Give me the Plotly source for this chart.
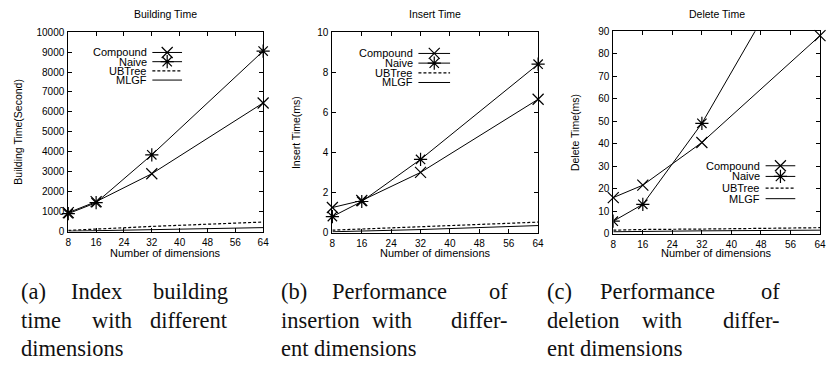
import plotly.graph_objects as go

W, H = 827, 378

dims = [8, 16, 32, 64]
x_ticks = [8, 16, 24, 32, 40, 48, 56, 64]

build_compound = [950, 1500, 2900, 6450]
build_naive = [900, 1450, 3850, 9050]
build_ubtree = [60, 130, 260, 480]
build_mlgf = [20, 50, 110, 200]

insert_compound = [1.25, 1.6, 3.0, 6.65]
insert_naive = [0.8, 1.55, 3.65, 8.4]
insert_ubtree = [0.12, 0.18, 0.3, 0.52]
insert_mlgf = [0.04, 0.07, 0.15, 0.35]

delete_compound = [16, 21.5, 40.5, 88]
delete_naive = [5.5, 13, 49, 140]
delete_ubtree = [1.5, 1.8, 2.0, 2.6]
delete_mlgf = [0.8, 1.0, 1.2, 1.5]

series_names = ["Compound", "Naive", "UBTree", "MLGF"]
panel_titles = ["Building Time", "Insert Time", "Delete Time"]
y_titles = ["Building Time(Second)", "Insert Time(ms)", "Delete Time(ms)"]
x_title = "Number of dimensions"
y_ranges = [[0, 10000], [0, 10], [0, 90]]
y_dticks = [1000, 2, 10]

captions = [
    [["(a)", "Index", "building"], ["time", "with", "different"], ["dimensions"]],
    [["(b)", "Performance", "of"], ["insertion", "with", "differ-"], ["ent dimensions"]],
    [["(c)", "Performance", "of"], ["deletion", "with", "differ-"], ["ent dimensions"]],
]

panels_data = [
    [build_compound, build_naive, build_ubtree, build_mlgf],
    [insert_compound, insert_naive, insert_ubtree, insert_mlgf],
    [delete_compound, delete_naive, delete_ubtree, delete_mlgf],
]

# ---- layout positions (pixels) ----
frames = [(66, 263, 27, 233), (333, 541, 27, 234), (617, 826, 26, 235)]
# legend: text right x, sample x0, sample x1, row y's (pixels)
legend_px = [
    (148, 151, 181, [48, 57.5, 67, 76.5]),
    (417, 420, 452, [49, 59, 69, 79]),
    (767, 771, 801, [165, 176, 188, 199]),
]
title_y = 8
xtitle_y = 255
ytitle_x = [15, 297, 579]
cap_cols = [(16, 230, [95, 110]), (279, 513, [391, 393]), (548, 788, [662, 666])]
cap_lines_y = [295, 325, 354]

FONT = "Liberation Sans, Arial, sans-serif"
SERIF = "Liberation Serif, Times New Roman, serif"
CAP_FONT = dict(family=SERIF, size=22.5, color="#111")

def px(x):
    return x / W

def py(y):
    return 1 - y / H

styles = [
    dict(line=dict(color="black", width=1),
         marker=dict(symbol="x-thin-open", size=11, color="black", line=dict(color="black", width=1.2))),
    dict(line=dict(color="black", width=1),
         marker=dict(symbol="asterisk-open", size=11, color="black", line=dict(color="black", width=1.2))),
    dict(line=dict(color="black", width=1.2, dash="3px,2px"), marker=None),
    dict(line=dict(color="black", width=1), marker=None),
]

fig = go.Figure()
layout = dict(
    width=W, height=H, margin=dict(l=0, r=0, t=0, b=0),
    paper_bgcolor="white", plot_bgcolor="white", showlegend=False,
    font=dict(family=FONT, size=10, color="black"),
)
annotations = []

for i in range(3):
    xl, xr, yt, yb = frames[i]
    xa = "x" if i == 0 else f"x{i+1}"
    ya = "y" if i == 0 else f"y{i+1}"
    ox = f"x{i+4}"
    oy = f"y{i+4}"
    dom_x = [px(xl), min(px(xr), 1.0)]
    dom_y = [py(yb), py(yt)]
    axis_common = dict(
        showline=True, mirror="allticks", linecolor="black", linewidth=1,
        ticks="inside", ticklen=4, tickcolor="black", showgrid=False, zeroline=False,
        tickfont=dict(family=FONT, size=10, color="black"), ticklabeloverflow="allow",
    )
    layout["xaxis" + ("" if i == 0 else str(i + 1))] = dict(
        domain=dom_x, anchor=ya, range=[8, 64], tickvals=x_ticks, ticklabelstandoff=1, **axis_common)
    layout["yaxis" + ("" if i == 0 else str(i + 1))] = dict(
        domain=dom_y, anchor=xa, range=y_ranges[i], dtick=y_dticks[i], tickformat="d",
        ticklabelstandoff=1, **axis_common)
    layout[f"xaxis{i+4}"] = dict(domain=dom_x, anchor=oy, overlaying=xa, range=[0, 1],
                                 visible=False, fixedrange=True)
    layout[f"yaxis{i+4}"] = dict(domain=dom_y, anchor=ox, overlaying=ya, range=[0, 1],
                                 visible=False, fixedrange=True)

    for s, vals in enumerate(panels_data[i]):
        st = styles[s]
        clip = (i == 2 and s == 1)
        kw = dict(x=dims, y=vals, xaxis=xa, yaxis=ya, name=series_names[s],
                  line=st["line"], cliponaxis=clip)
        if st["marker"] is not None:
            kw["mode"] = "lines+markers"
            kw["marker"] = st["marker"]
        else:
            kw["mode"] = "lines"
        fig.add_trace(go.Scatter(**kw))

    # manual legend (text left of sample, as in the reference)
    tr, lx0, lx1, rows = legend_px[i]
    fx = lambda v: (v - xl) / (xr - xl)
    fyf = lambda v: (yb - v) / (yb - yt)
    for s in range(4):
        st = styles[s]
        fy = fyf(rows[s])
        fig.add_trace(go.Scatter(x=[fx(lx0), fx(lx1)], y=[fy, fy], xaxis=ox, yaxis=oy, mode="lines",
                                 line=st["line"], hoverinfo="skip", cliponaxis=False))
        if st["marker"] is not None:
            fig.add_trace(go.Scatter(x=[(fx(lx0) + fx(lx1)) / 2], y=[fy], xaxis=ox, yaxis=oy,
                                     mode="markers", marker=st["marker"], hoverinfo="skip",
                                     cliponaxis=False))
        annotations.append(dict(text=series_names[s], xref=ox, yref=oy, x=fx(tr), y=fy,
                                xanchor="right", yanchor="middle", showarrow=False,
                                font=dict(family=FONT, size=11, color="black")))

    cx = (xl + xr) / 2
    annotations.append(dict(text=panel_titles[i], xref="paper", yref="paper", x=px(cx), y=py(title_y),
                            xanchor="center", yanchor="middle", showarrow=False,
                            font=dict(family=FONT, size=10.5, color="black")))
    annotations.append(dict(text=x_title, xref="paper", yref="paper", x=px(cx), y=py(xtitle_y),
                            xanchor="center", yanchor="middle", showarrow=False,
                            font=dict(family=FONT, size=11, color="black")))
    annotations.append(dict(text=y_titles[i], xref="paper", yref="paper", x=px(ytitle_x[i]),
                            y=py((yt + yb) / 2), xanchor="center", yanchor="middle", textangle=-90,
                            showarrow=False, font=dict(family=FONT, size=10.5, color="black")))

    # caption (justified lines placed word by word)
    c0, c1, mids = cap_cols[i]
    for li, words in enumerate(captions[i]):
        yy = py(cap_lines_y[li])
        annotations.append(dict(text=words[0], xref="paper", yref="paper", x=px(c0), y=yy,
                                xanchor="left", yanchor="middle", showarrow=False, font=CAP_FONT))
        if len(words) == 3:
            annotations.append(dict(text=words[1], xref="paper", yref="paper", x=px(mids[li]), y=yy,
                                    xanchor="center", yanchor="middle", showarrow=False, font=CAP_FONT))
            annotations.append(dict(text=words[2], xref="paper", yref="paper", x=px(c1), y=yy,
                                    xanchor="right", yanchor="middle", showarrow=False, font=CAP_FONT))

layout["annotations"] = annotations
fig.update_layout(**layout)
fig.write_html("out.html", config={"displayModeBar": False},
               post_script="document.body.style.margin='0';")
